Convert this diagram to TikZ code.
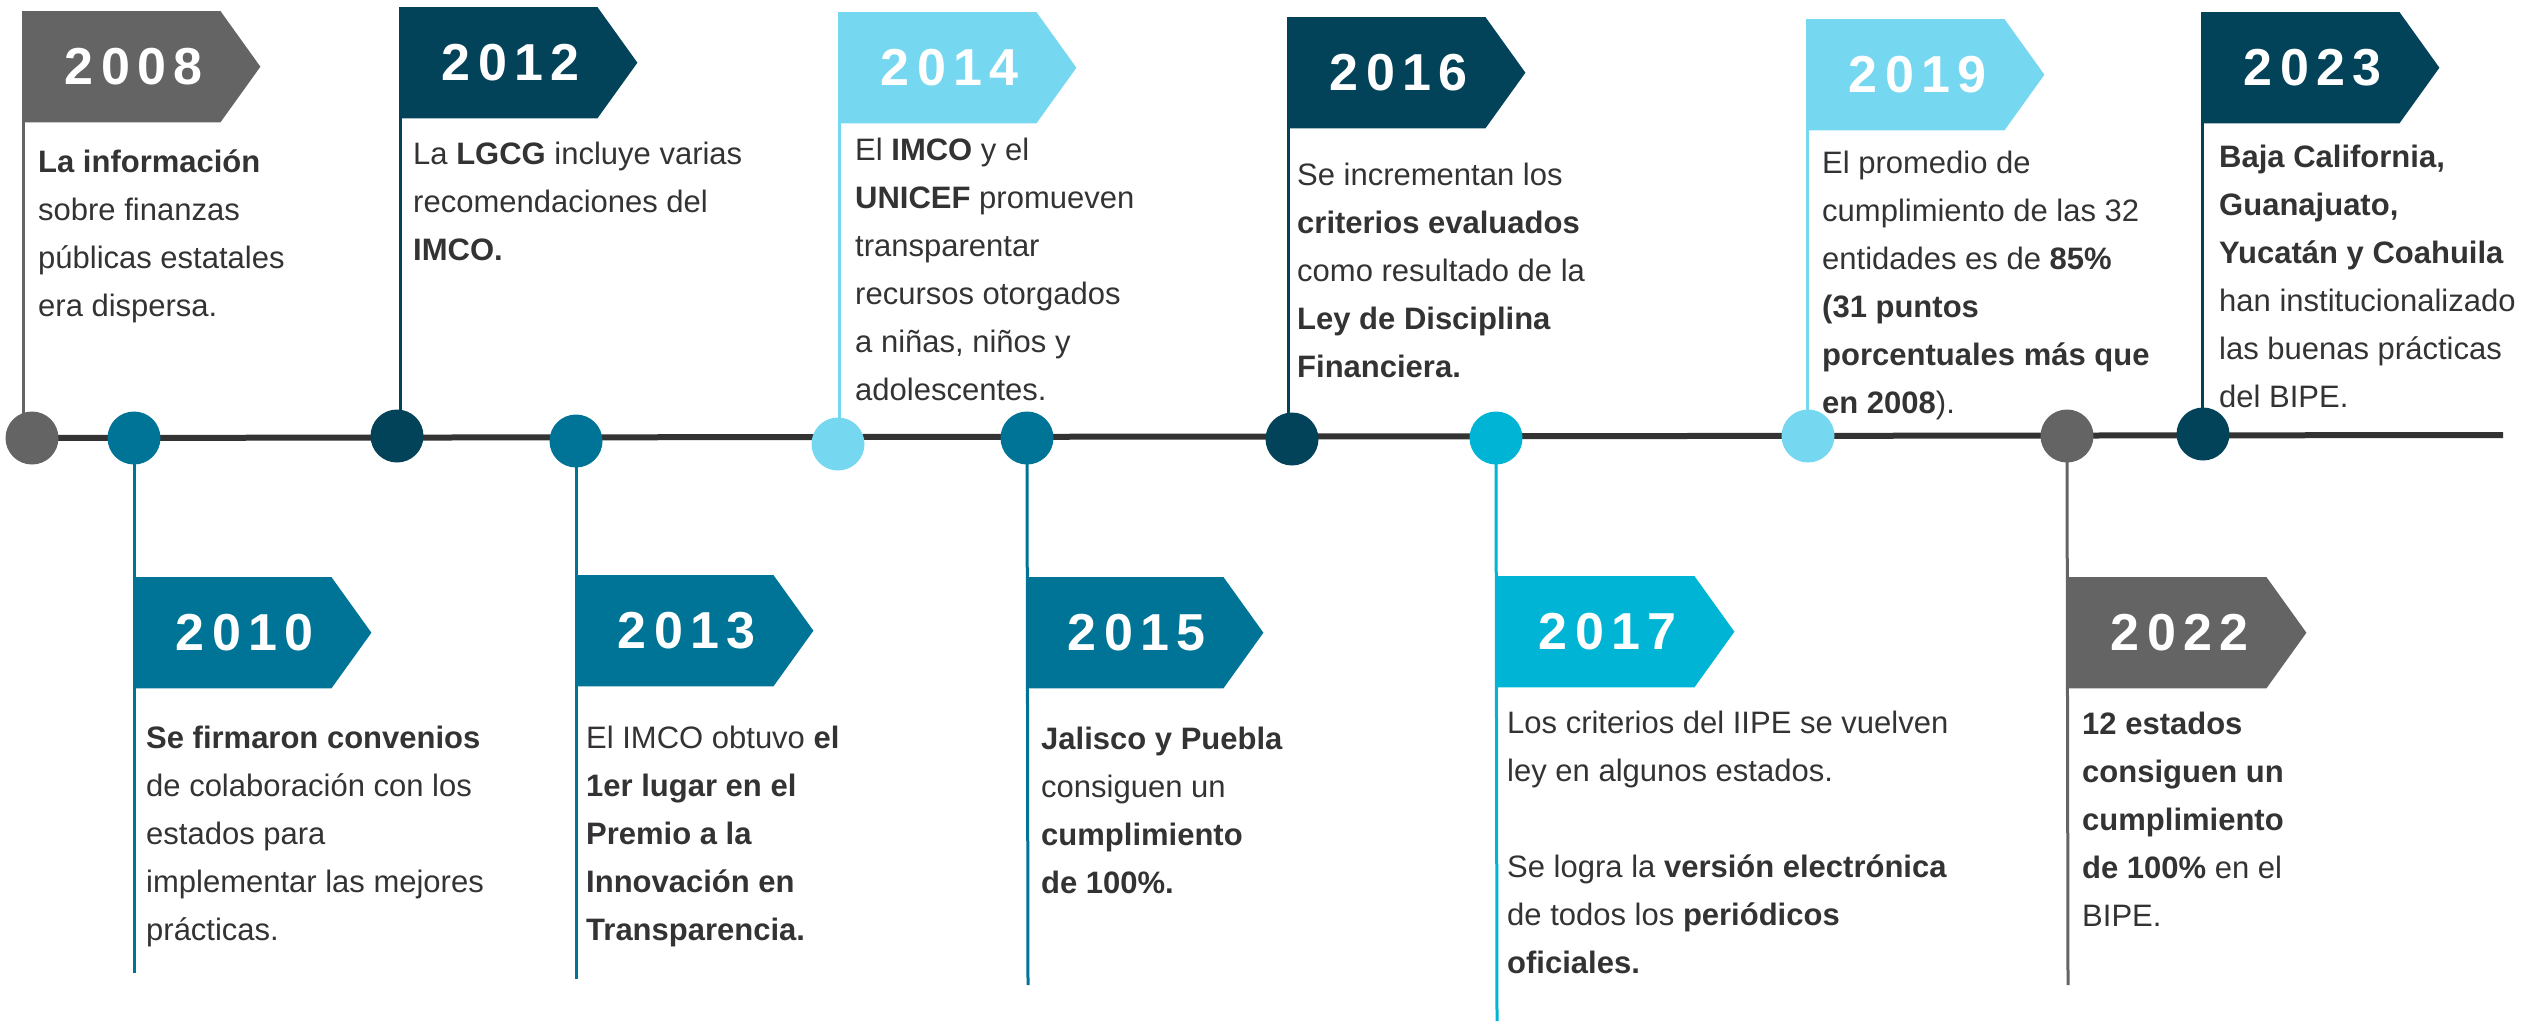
\documentclass[tikz,border=0pt]{standalone}
\usepackage{fontspec}
\setmainfont{Liberation Sans}
\newfontfamily\yearfont{Liberation Sans}[LetterSpace=14]
\usetikzlibrary{backgrounds}
\definecolor{cgray}{HTML}{646464}
\definecolor{cdark}{HTML}{03435A}
\definecolor{cteal}{HTML}{007496}
\definecolor{clight}{HTML}{75D7F0}
\definecolor{ccyan}{HTML}{00B4D5}
\definecolor{ctext}{HTML}{333333}
\definecolor{cline}{HTML}{333333}
\tikzset{
  flagbox/.style={minimum width=197pt, minimum height=111pt, inner sep=0pt, anchor=north west},
  yeartext/.style={text=white, font=\yearfont\bfseries\fontsize{52}{52}\selectfont, inner sep=0pt},
  dot/.style={circle, minimum size=53pt, inner sep=0pt},
  bodytext/.style={text=ctext, font=\fontsize{31}{48}\selectfont, align=left, anchor=north west, inner sep=0pt},
  pole/.style={line width=3pt},
  timeline/.style={line width=6pt, draw=cline}
}
\newcommand\tlflag[5]{%
  \node[flagbox] (#1) at (#3,#4) {};
  \fill[#2] (#1.north west) -- (#1.north east) -- ([xshift=40pt]#1.east) -- (#1.south east) -- (#1.south west) -- cycle;
  \node[yeartext] (#1t) at ([xshift=12pt]#1.center) {#5};
}
\begin{document}
\begin{tikzpicture}[x=1pt,y=-1pt]
\useasboundingbox (0,0) rectangle (2524,1021);

% circles
\node[dot, fill=cgray]  (c2008) at (32,438) {};
\node[dot, fill=cteal]  (c2010) at (134,438) {};
\node[dot, fill=cdark]  (c2012) at (397,436) {};
\node[dot, fill=cteal]  (c2013) at (576,441) {};
\node[dot, fill=clight] (c2014) at (838,444) {};
\node[dot, fill=cteal]  (c2015) at (1027,438) {};
\node[dot, fill=cdark]  (c2016) at (1292,439) {};
\node[dot, fill=ccyan]  (c2017) at (1496,438) {};
\node[dot, fill=clight] (c2019) at (1808,436) {};
\node[dot, fill=cgray]  (c2022) at (2067,436) {};
\node[dot, fill=cdark]  (c2023) at (2203,434) {};
\coordinate (tend) at (2503,435);

% flags
\tlflag{f2008}{cgray}{23}{11}{2008}
\tlflag{f2012}{cdark}{400}{7}{2012}
\tlflag{f2014}{clight}{839}{12}{2014}
\tlflag{f2016}{cdark}{1288}{17}{2016}
\tlflag{f2019}{clight}{1807}{19}{2019}
\tlflag{f2023}{cdark}{2202}{12}{2023}
\tlflag{f2010}{cteal}{134}{577}{2010}
\tlflag{f2013}{cteal}{576}{575}{2013}
\tlflag{f2015}{cteal}{1026}{577}{2015}
\tlflag{f2017}{ccyan}{1497}{576}{2017}
\tlflag{f2022}{cgray}{2069}{577}{2022}

\coordinate (e2010) at (134,973);
\coordinate (e2013) at (576,979);
\coordinate (e2015) at (1028,985);
\coordinate (e2017) at (1497,1021);
\coordinate (e2022) at (2068,985);

\begin{scope}[on background layer]
\draw[timeline] (c2008.center) -- (tend);
\draw[pole, cgray]  (f2008.north west) -- (f2008.north west |- c2008.center);
\draw[pole, cdark]  (f2012.north west) -- (f2012.north west |- c2012.center);
\draw[pole, clight] (f2014.north west) -- (f2014.north west |- c2014.center);
\draw[pole, cdark]  (f2016.north west) -- (f2016.north west |- c2016.center);
\draw[pole, clight] (f2019.north west) -- (f2019.north west |- c2019.center);
\draw[pole, cdark]  (f2023.north west) -- (f2023.north west |- c2023.center);
\draw[pole, cteal]  (c2010.center) -- (e2010);
\draw[pole, cteal]  (c2013.center) -- (e2013);
\draw[pole, cteal]  (c2015.center) -- (e2015);
\draw[pole, ccyan]  (c2017.center) -- (e2017);
\draw[pole, cgray]  (c2022.center) -- (e2022);
\end{scope}

% texts
\node[bodytext] (t2008) at (38,138.4) {\strut\textbf{La información}\\sobre finanzas\\públicas estatales\\era dispersa.};
\node[bodytext] (t2012) at (413,130.4) {\strut La \textbf{LGCG} incluye varias\\recomendaciones del\\\textbf{IMCO.}};
\node[bodytext] (t2014) at (855,126.4) {\strut El \textbf{IMCO} y el\\\textbf{UNICEF} promueven\\transparentar\\recursos otorgados\\a niñas, niños y\\adolescentes.};
\node[bodytext] (t2016) at (1297,151.4) {\strut Se incrementan los\\\textbf{criterios evaluados}\\como resultado de la\\\textbf{Ley de Disciplina}\\\textbf{Financiera.}};
\node[bodytext] (t2019) at (1822,139.4) {\strut El promedio de\\cumplimiento de las 32\\entidades es de \textbf{85\%}\\\textbf{(31 puntos}\\\textbf{porcentuales más que}\\\textbf{en 2008}).};
\node[bodytext] (t2023) at (2219,133.4) {\strut\textbf{Baja California,}\\\textbf{Guanajuato,}\\\textbf{Yucatán y Coahuila}\\han institucionalizado\\las buenas prácticas\\del BIPE.};
\node[bodytext] (t2010) at (146,714.4) {\strut\textbf{Se firmaron convenios}\\de colaboración con los\\estados para\\implementar las mejores\\prácticas.};
\node[bodytext] (t2013) at (586,714.4) {\strut El IMCO obtuvo \textbf{el}\\\textbf{1er lugar en el}\\\textbf{Premio a la}\\\textbf{Innovación en}\\\textbf{Transparencia.}};
\node[bodytext] (t2015) at (1041,715.4) {\strut\textbf{Jalisco y Puebla}\\consiguen un\\\textbf{cumplimiento}\\\textbf{de 100\%.}};
\node[bodytext] (t2017) at (1507,699.4) {\strut Los criterios del IIPE se vuelven\\ley en algunos estados.\\[48pt]Se logra la \textbf{versión electrónica}\\de todos los \textbf{periódicos}\\\textbf{oficiales.}};
\node[bodytext] (t2022) at (2082,700.4) {\strut\textbf{12 estados}\\\textbf{consiguen un}\\\textbf{cumplimiento}\\\textbf{de 100\%} en el\\BIPE.};
\end{tikzpicture}
\end{document}
